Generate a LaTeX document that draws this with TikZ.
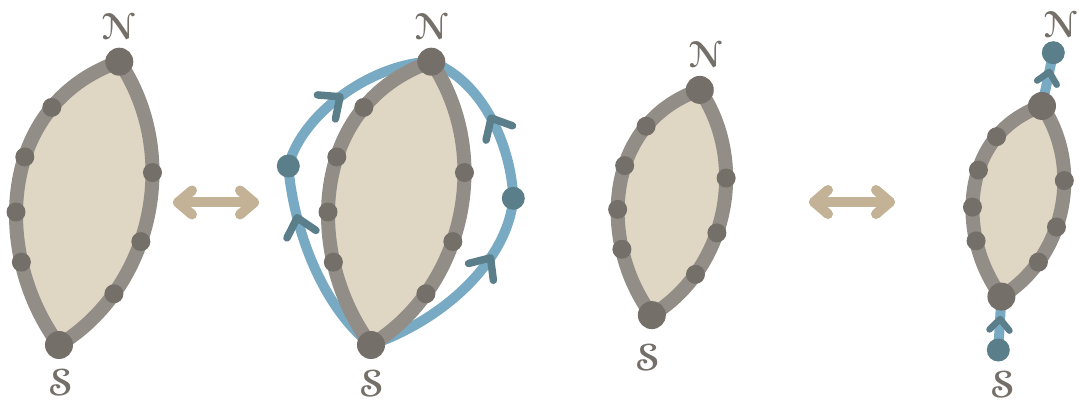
\documentclass[tikz,border=0pt]{standalone}
\usepackage{eucal}
\usetikzlibrary{decorations.markings}
\definecolor{lensfill}{HTML}{E0D6C4}
\definecolor{lensline}{HTML}{928D87}
\definecolor{dotc}{HTML}{756F69}
\definecolor{blueline}{HTML}{79AAC3}
\definecolor{bluedark}{HTML}{5B7F8A}
\definecolor{beige}{HTML}{C4B296}
\newcommand\bigcal[1]{\scalebox{3.7}{\boldmath$\mathcal{#1}$}}
\tikzset{
  bigdot/.style={circle, fill=dotc, inner sep=0pt, minimum size=28pt},
  smalldot/.style={circle, fill=dotc, inner sep=0pt, minimum size=19pt},
  bluedot/.style={circle, fill=bluedark, inner sep=0pt, minimum size=23pt},
  lens/.style={fill=lensfill, draw=lensline, line width=14pt, line join=round},
  blueedge/.style={draw=blueline, line width=10pt},
  lbl/.style={text=dotc, inner sep=0pt},
  chevline/.style={draw=bluedark, line width=7.5pt, line cap=round, line join=round},
  chev/.style={postaction={decorate}, decoration={markings, mark=at position #1 with {\draw[chevline] (-17pt,15pt) -- (0pt,0pt) -- (-17pt,-15pt);}}},
  chevs/.style={postaction={decorate}, decoration={markings, mark=at position #1 with {\draw[chevline, line width=6.5pt] (-11pt,10pt) -- (0pt,0pt) -- (-11pt,-10pt);}}},
  dblshaft/.style={draw=beige, line width=10pt, line cap=round},
  dblhead/.style={draw=beige, line width=10pt, line cap=round, line join=round}
}
% prefix, mid x, mid y, scale
\newcommand\lens[4]{%
  \begin{scope}[shift={(#2,#3)}, scale=#4]
    \coordinate (#1N) at (30.15,-141.65);
    \coordinate (#1S) at (-30.15,141.65);
  \end{scope}}
\newcommand\lensdraw[4]{%
  \begin{scope}[shift={(#2,#3)}, scale=#4]
    \path[lens] (#1S) .. controls (-97.05,51.75) and (-92.4,-99.25) .. (#1N)
        node[smalldot, pos=0.27] (#1l4d) {}
        node[smalldot, pos=0.42] (#1l3d) {}
        node[smalldot, pos=0.59] (#1l2d) {}
        node[smalldot, pos=0.765] (#1l1d) {}
      .. controls (92.85,-48.25) and (63.3,84.75) .. (#1S)
        node[smalldot, pos=0.36] (#1r1d) {}
        node[smalldot, pos=0.58] (#1r2d) {}
        node[smalldot, pos=0.765] (#1r3d) {}
      -- cycle;
    \node[bigdot] (#1Nd) at (#1N) {};
    \node[bigdot] (#1Sd) at (#1S) {};
  \end{scope}}
\begin{document}
\begin{tikzpicture}[x=1pt, y=-1pt]
  \useasboundingbox (0,0) rectangle (1082,406);
  % end points of the four lenses
  \lens{a}{89.15}{203.35}{1}
  \lens{b}{401.15}{203.35}{1}
  \lens{c}{675.8}{202.5}{0.795}
  \lens{d}{1021.7}{201.3}{0.673}
  \coordinate (bL) at (288.3,166);
  \coordinate (bR) at (513.3,198.3);
  \coordinate (dT) at (1053.3,52.7);
  \coordinate (dB) at (998.3,350);
  % blue paths
  \draw[blueedge, chev=0.74] (bS) .. controls (315,300) and (292,215) .. (bL);
  \draw[blueedge, chev=0.47] (bL) .. controls (303,111) and (375,63) .. (bN);
  \draw[blueedge, chev=0.70] (bS) .. controls (448,318) and (508,258) .. (bR);
  \draw[blueedge, chev=0.50] (bR) .. controls (511,143) and (481,80) .. (bN);
  \draw[blueedge, chevs=0.64] (dN) -- (dT);
  \draw[blueedge, chevs=0.58] (dB) -- (dS);
  % lenses
  \lensdraw{a}{89.15}{203.35}{1}
  \lensdraw{b}{401.15}{203.35}{1}
  \lensdraw{c}{675.8}{202.5}{0.795}
  \lensdraw{d}{1021.7}{201.3}{0.673}
  \node[bluedot] (bLd) at (bL) {};
  \node[bluedot] (bRd) at (bR) {};
  \node[bluedot] (dTd) at (dT) {};
  \node[bluedot] (dBd) at (dB) {};
  % double arrows
  \coordinate (x1l) at (178,202.5);
  \coordinate (x1r) at (254,202.5);
  \coordinate (x2l) at (814,202);
  \coordinate (x2r) at (890,202);
  \draw[dblshaft] (x1l) -- (x1r);
  \draw[dblhead] ([shift={(14,-12)}]x1l) -- (x1l) -- ([shift={(14,12)}]x1l);
  \draw[dblhead] ([shift={(-14,-12)}]x1r) -- (x1r) -- ([shift={(-14,12)}]x1r);
  \draw[dblshaft] (x2l) -- (x2r);
  \draw[dblhead] ([shift={(14,-12)}]x2l) -- (x2l) -- ([shift={(14,12)}]x2l);
  \draw[dblhead] ([shift={(-14,-12)}]x2r) -- (x2r) -- ([shift={(-14,12)}]x2r);
  % labels
  \node[lbl] (aNl) at (118,27) {\bigcal{N}};
  \node[lbl] (aSl) at (61,383) {\bigcal{S}};
  \node[lbl] (bNl) at (431,27) {\bigcal{N}};
  \node[lbl] (bSl) at (372,384) {\bigcal{S}};
  \node[lbl] (cNl) at (705,55) {\bigcal{N}};
  \node[lbl] (cSl) at (648,358) {\bigcal{S}};
  \node[lbl] (dNl) at (1060,25) {\bigcal{N}};
  \node[lbl] (dSl) at (1003,385) {\bigcal{S}};
\end{tikzpicture}
\end{document}
